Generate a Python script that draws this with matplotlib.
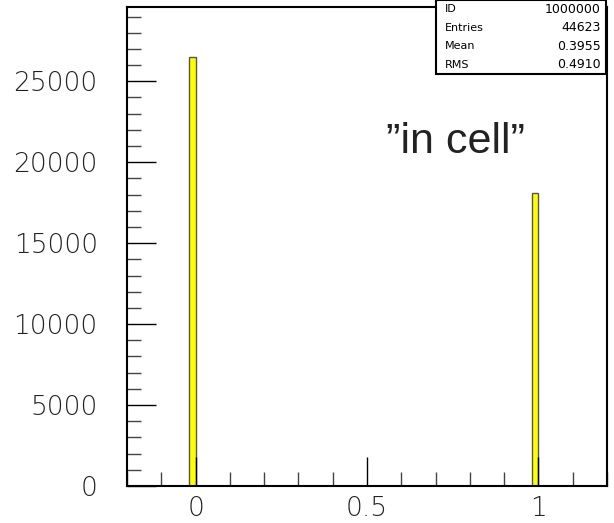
import matplotlib
matplotlib.use("Agg")
import matplotlib.pyplot as plt
from matplotlib.ticker import MultipleLocator

# Histogram contents: two occupied bins of width 0.02
bin_lefts = [-0.02, 0.98]
bin_counts = [26528, 18095]
bin_width = 0.02

stat_names = ["ID", "Entries", "Mean", "RMS"]
stat_values = ["1000000", "44623", "0.3955", "0.4910"]

label_text = "\u201din cell\u201d"

fig = plt.figure(figsize=(6.14, 5.23), dpi=100)
ax = fig.add_axes([127 / 614, 1 - 486 / 523, 480 / 614, (486 - 6.8) / 523])

ax.bar(bin_lefts, bin_counts, width=bin_width, align="edge",
       color="#ffff00", edgecolor="#555555", linewidth=1.0, zorder=1)

ax.set_xlim(-0.2, 1.2)
ax.set_ylim(0, 29600)

ax.xaxis.set_minor_locator(MultipleLocator(0.1))
ax.yaxis.set_major_locator(MultipleLocator(5000))
ax.yaxis.set_minor_locator(MultipleLocator(1000))
ax.set_xticks([0, 0.5, 1])
ax.set_xticklabels(["0", "0.5", "1"])

ax.tick_params(axis="both", which="major", direction="in", length=21, width=1.0,
               color="black", top=False, right=False)
ax.tick_params(axis="both", which="minor", direction="in", length=10, width=1.0,
               color="#444444", top=False, right=False)
ax.tick_params(axis="y", which="major", pad=21)
ax.tick_params(axis="x", which="major", pad=7)
for lab in ax.get_xticklabels() + ax.get_yticklabels():
    lab.set_fontfamily(["DejaVu Sans"])
    lab.set_fontweight(200)
    lab.set_fontsize(19)
    lab.set_color("#222222")

for sp in ax.spines.values():
    sp.set_linewidth(1.5)
    sp.set_color("black")
    sp.set_zorder(5)

# Statistics box in the top-right corner
box_l, box_r = 436 / 614, 606 / 614
box_t, box_b = 1.0, 1 - 74 / 523
fig.patches.append(plt.Rectangle((box_l, box_b), box_r - box_l, box_t - box_b,
                                 transform=fig.transFigure, facecolor="white",
                                 edgecolor="black", linewidth=1.5, zorder=10))
row_h = (box_t - box_b) / len(stat_names)
for i, (n, v) in enumerate(zip(stat_names, stat_values)):
    yc = box_t - (i + 0.5) * row_h
    fig.text(box_l + 9 / 614, yc, n, ha="left", va="center", fontsize=8,
             family="DejaVu Sans", color="black", zorder=11)
    fig.text(box_r - 5 / 614, yc, v, ha="right", va="center", fontsize=9,
             family="DejaVu Sans", color="black", zorder=11)

fig.text(455 / 614, 1 - 153 / 523, label_text, ha="center", va="baseline",
         fontsize=31, family=["Liberation Sans", "DejaVu Sans"], color="#222222")

fig.savefig("out.png", dpi=100)
